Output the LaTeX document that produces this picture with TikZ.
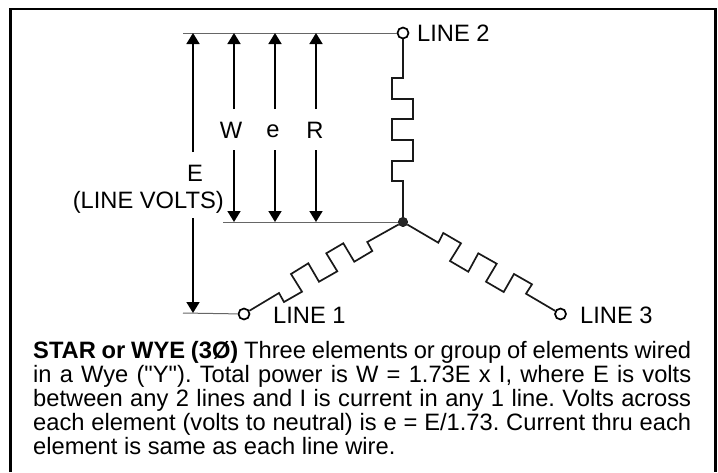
\documentclass[tikz,border=0pt]{standalone}
\usepackage{fontspec}
\setmainfont{Liberation Sans}
\newfontfamily\plainquote{Liberation Sans}
\usetikzlibrary{arrows.meta}
\tikzset{
    wire/.style={line width=1.7pt, black!90},
    guide/.style={line width=1pt, black!60},
    volts/.style={line width=1.7pt, -{Triangle[width=13pt,length=11pt]}},
    terminal/.style={draw, circle, line width=1.7pt, fill=white, inner sep=0pt, minimum size=11pt},
    label/.style={inner sep=0pt, font=\fontsize{23.7}{29}\selectfont},
}
\begin{document}
\begin{tikzpicture}[x=1pt, y=-1pt]
    \useasboundingbox (0,0) rectangle (718,472);
    \draw[line width=2.5pt, black] (10.5,472) -- (10.5,9) -- (715.5,9) -- (715.5,472);

    \node[terminal] (line2) at (403,33) {};
    \node[terminal] (line1) at (244,314) {};
    \node[terminal] (line3) at (560.5,314) {};
    \node[draw, circle, fill=black!85, inner sep=0pt, minimum size=9.5pt] (star) at (403,222) {};
    \coordinate (topleft) at (183,33);
    \coordinate (midleft) at (223,222);
    \coordinate (lowleft) at (183,313);

    \node[label, anchor=west] (name2) at (417,33) {LINE 2};
    \node[label, anchor=west] (name1) at (273,315) {LINE 1};
    \node[label, anchor=west] (name3) at (580,315) {LINE 3};
    \node[label] (W) at (231,130) {W};
    \node[label] (e) at (273,131) {e};
    \node[label] (R) at (315,130) {R};
    \node[label] (E) at (195,173) {E};
    \node[label, anchor=east] (linevolts) at (224,202) {(LINE VOLTS)};

    \draw[guide] (topleft) -- (line2);
    \draw[guide] (midleft) -- (star);
    \draw[guide] (lowleft) -- (line1);

    % voltage arrows, split by their letters
    \draw[volts] (193,152) -- (193,33);
    \draw[volts] (193,218) -- (193,313);
    \foreach \x/\name in {234/W, 275/e, 316/R} {
        \draw[volts] (\x,109) -- (\x,33);
        \draw[volts] (\x,150) -- (\x,222);
    }

    % the three elements
    \draw[wire] (line2) -- (403,78) -- (392,78) -- (392,99) -- (413,99) -- (413,119) -- (392,119) -- (392,140) -- (413,140) -- (413,161) -- (392,161) -- (392,181) -- (403,181) -- (star);
    \draw[wire] (star) -- (367.3,242) -- (372.3,251) -- (354.3,261.7) -- (343.3,243.3) -- (326.3,253.3) -- (337.3,271.3) -- (319,281.7) -- (308.3,263.3) -- (291,274) -- (302,291.7) -- (284,302) -- (279,293) -- (line1);
    \draw[wire] (star) -- (438.3,242.7) -- (443.3,233) -- (461,243.3) -- (450,261) -- (468.3,271.7) -- (478.3,253.3) -- (496.7,263.7) -- (486,281.7) -- (503.7,292) -- (514,274) -- (532,284.3) -- (526,293.7) -- (line3);

    \node[anchor=north west, inner sep=0pt, text width=658pt, align=justify, font=\fontsize{23.7}{24}\selectfont\frenchspacing] (caption) at (33,341) {\textbf{STAR or WYE (3Ø)} Three elements or group of elements wired\linebreak in a Wye ({\plainquote"}Y{\plainquote"}). Total power is W = 1.73E x I, where E is volts\linebreak between any 2 lines and I is current in any 1 line. Volts across\linebreak each element (volts to neutral) is e = E/1.73. Current thru each\linebreak element is same as each line wire.};
\end{tikzpicture}
\end{document}
